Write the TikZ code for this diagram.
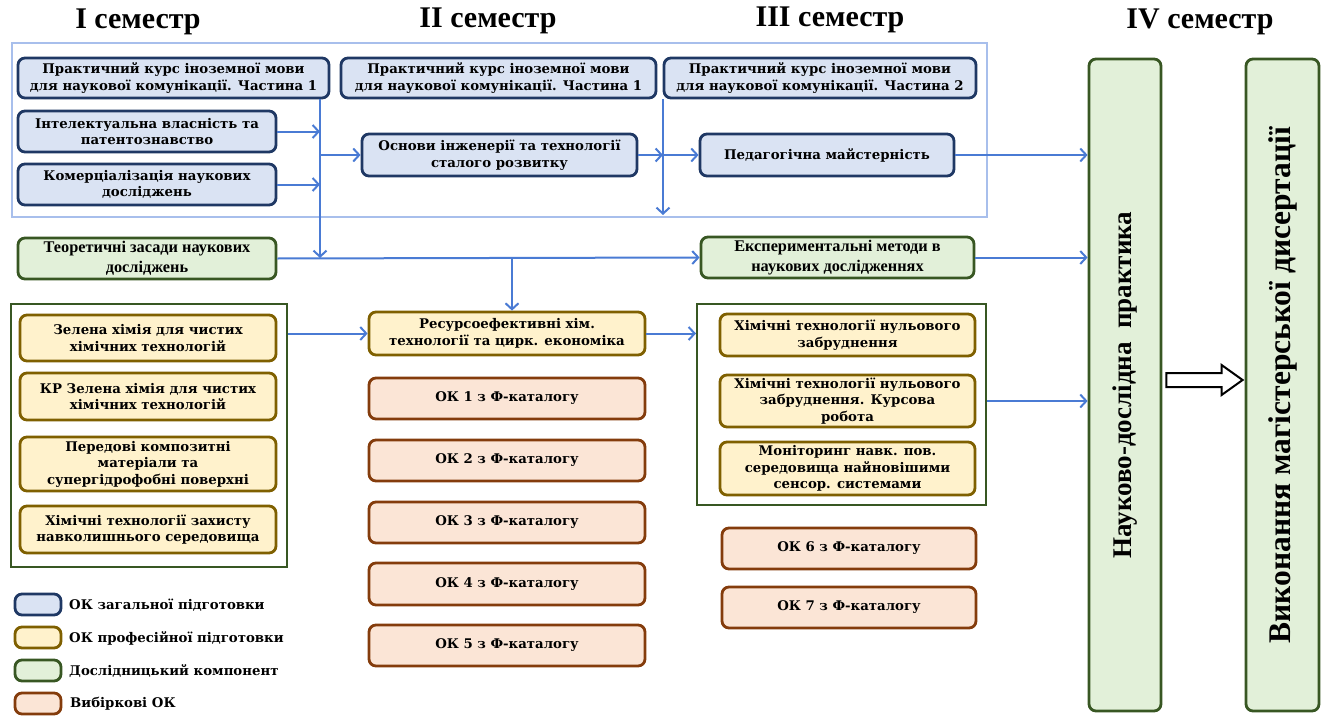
\documentclass[tikz,border=0pt]{standalone}
\usepackage{fontspec}
\usepackage{graphicx}
\setmainfont{DejaVu Serif}
\newfontfamily\lserif{Liberation Serif}
\usetikzlibrary{arrows.meta,calc}
\definecolor{bfill}{HTML}{DAE3F3}
\definecolor{bdraw}{HTML}{1F3864}
\definecolor{yfill}{HTML}{FFF2CC}
\definecolor{ydraw}{HTML}{7F6000}
\definecolor{gfill}{HTML}{E2F0D9}
\definecolor{gdraw}{HTML}{385723}
\definecolor{pfill}{HTML}{FBE5D6}
\definecolor{pdraw}{HTML}{843C0C}
\definecolor{arrc}{HTML}{4A7BD4}
\definecolor{frameblue}{HTML}{A8BFEC}
\newcommand\boxfont{\bfseries\fontsize{13.3}{16.5}\selectfont}
\newcommand\bx[7]{\node[#2, minimum width={#5-#3}, minimum height={#6-#4}] (#1) at ({(#3+#5)/2},{(#4+#6)/2}) {#7};}
\tikzset{
  base/.style={rounded corners=7pt, line width=2.8pt, align=center, inner sep=0pt, font=\boxfont},
  bluebox/.style={base, draw=bdraw, fill=bfill},
  yelbox/.style={base, draw=ydraw, fill=yfill},
  grnbox/.style={base, draw=gdraw, fill=gfill},
  pinkbox/.style={base, draw=pdraw, fill=pfill},
  gtext/.style={font=\lserif\bfseries\fontsize{16.3}{20}\selectfont},
  gframe/.style={draw=gdraw, line width=2pt, fill=white, inner sep=0pt},
  bframe/.style={draw=frameblue, line width=2.5pt, inner sep=0pt},
  arr/.style={draw=arrc, line width=2pt, -{Straight Barb[length=6pt,width=13pt]}},
  sem/.style={font=\lserif\bfseries\fontsize{30}{34}\selectfont},
  legtext/.style={anchor=west, inner sep=0pt, font=\boxfont},
}
\begin{document}
\begin{tikzpicture}[x=1pt,y=-1pt]
\useasboundingbox (0,0) rectangle (1333,717);
% semester titles
\node[sem] (s1) at (138,22) {I семестр};
\node[sem] (s2) at (488,21) {II семестр};
\node[sem] (s3) at (830,20) {III семестр};
\node[sem] (s4) at (1200,22) {IV семестр};
% frames
\bx{fr}{bframe}{12}{43}{987}{217}{}
\bx{lf}{gframe}{11}{304}{287}{567}{}
\bx{rf}{gframe}{697}{304}{986}{505}{}
% blue boxes
\bx{a1}{bluebox}{18}{58}{329}{98}{Практичний курс іноземної мови\\для наукової комунікації. Частина 1}
\bx{a2}{bluebox}{18}{111}{276}{152}{Інтелектуальна власність та\\патентознавство}
\bx{a3}{bluebox}{18}{164}{276}{205}{Комерціалізація наукових\\досліджень}
\bx{b1}{bluebox}{341}{58}{656}{98}{Практичний курс іноземної мови\\для наукової комунікації. Частина 1}
\bx{b2}{bluebox}{362}{134}{637}{176}{Основи інженерії та технології\\сталого розвитку}
\bx{c1}{bluebox}{664}{58}{976}{98}{Практичний курс іноземної мови\\для наукової комунікації. Частина 2}
\bx{c2}{bluebox}{700}{134}{954}{176}{Педагогічна майстерність}
% green boxes
\bx{g1}{grnbox, gtext}{18}{238}{276}{279}{Теоретичні засади наукових\\досліджень}
\bx{g2}{grnbox, gtext}{701}{237}{974}{278}{Експериментальні методи в\\наукових дослідженнях}
% yellow boxes left
\bx{y1}{yelbox}{20}{315}{276}{361}{Зелена хімія для чистих\\хімічних технологій}
\bx{y2}{yelbox}{20}{373}{276}{420}{КР Зелена хімія для чистих\\хімічних технологій}
\bx{y3}{yelbox}{20}{437}{276}{491}{Передові композитні\\матеріали та\\супергідрофобні поверхні}
\bx{y4}{yelbox}{20}{506}{276}{553}{Хімічні технології захисту\\навколишнього середовища}
% middle column
\bx{r}{yelbox}{369}{312}{645}{355}{Ресурсоефективні хім.\\технології та цирк. економіка}
\bx{p1}{pinkbox}{369}{378}{645}{419}{ОК 1 з Ф-каталогу}
\bx{p2}{pinkbox}{369}{440}{645}{481}{ОК 2 з Ф-каталогу}
\bx{p3}{pinkbox}{369}{502}{645}{543}{ОК 3 з Ф-каталогу}
\bx{p4}{pinkbox}{369}{563}{645}{605}{ОК 4 з Ф-каталогу}
\bx{p5}{pinkbox}{369}{625}{645}{666}{ОК 5 з Ф-каталогу}
% right column
\bx{z1}{yelbox}{720}{314}{975}{356}{Хімічні технології нульового\\забруднення}
\bx{z2}{yelbox}{720}{375}{975}{427}{Хімічні технології нульового\\забруднення. Курсова\\робота}
\bx{z3}{yelbox}{720}{442}{975}{495}{Моніторинг навк. пов.\\середовища найновішими\\сенсор. системами}
\bx{p6}{pinkbox}{722}{528}{976}{569}{ОК 6 з Ф-каталогу}
\bx{p7}{pinkbox}{722}{587}{976}{628}{ОК 7 з Ф-каталогу}
% IV semester
\bx{n}{grnbox}{1089}{59}{1161}{711}{\rotatebox{90}{\lserif\bfseries\fontsize{27}{30}\selectfont Науково-дослідна\ \ практика}}
\bx{d}{grnbox}{1246}{59}{1319}{711}{\rotatebox{90}{\lserif\bfseries\fontsize{31.5}{34}\selectfont Виконання магістерської дисертації}}
% legend
\bx{lb}{bluebox}{15}{594}{61}{615}{}
\bx{ly}{yelbox}{15}{627}{61}{648}{}
\bx{lg}{grnbox}{15}{660}{61}{681}{}
\bx{lp}{pinkbox}{15}{693}{61}{714}{}
\node[legtext] (tb) at (69,605) {ОК загальної підготовки};
\node[legtext] (ty) at (69,638) {ОК професійної підготовки};
\node[legtext] (tg) at (69,671) {Дослідницький компонент};
\node[legtext] (tp) at (70,704) {Вибіркові ОК};
% connectors
\coordinate (v1) at (320,258);
\coordinate (v2) at (663,215);
\draw[arr] (a1.south -| v1) -- (v1);
\draw[arr] (a2.east) -- (a2.east -| v1);
\draw[arr] (a3.east) -- (a3.east -| v1);
\draw[arr] (b2.west -| v1) -- (b2.west);
\draw[arr] (c1.south -| v2) -- (v2);
\draw[arr] (b2.east) -- (b2.east -| v2);
\draw[arr] (c2.west -| v2) -- (c2.west);
\draw[arr] (c2.east) -- (c2.east -| n.west);
\draw[arr] (g1.east) -- (g2.west);
\coordinate (br) at (512,258);
\draw[arr] (br) -- (br |- r.north);
\draw[arr] (g2.east) -- (g2.east -| n.west);
\draw[arr] (r.west -| lf.east) -- (r.west);
\draw[arr] (r.east) -- (r.east -| rf.west);
\draw[arr] (z2.east -| rf.east) -- (z2.east -| n.west);
% hollow arrow
\coordinate (ds) at (n.east |- 0,380);
\coordinate (de) at (d.west |- 0,380);
\draw[line width=2pt, fill=white, line join=miter]
  ([shift={(4,-7)}]ds) -- ([shift={(-23,-7)}]de) -- ([shift={(-23,-15)}]de) -- ([shift={(-2,0)}]de)
  -- ([shift={(-23,15)}]de) -- ([shift={(-23,7)}]de) -- ([shift={(4,7)}]ds) -- cycle;
\end{tikzpicture}
\end{document}
